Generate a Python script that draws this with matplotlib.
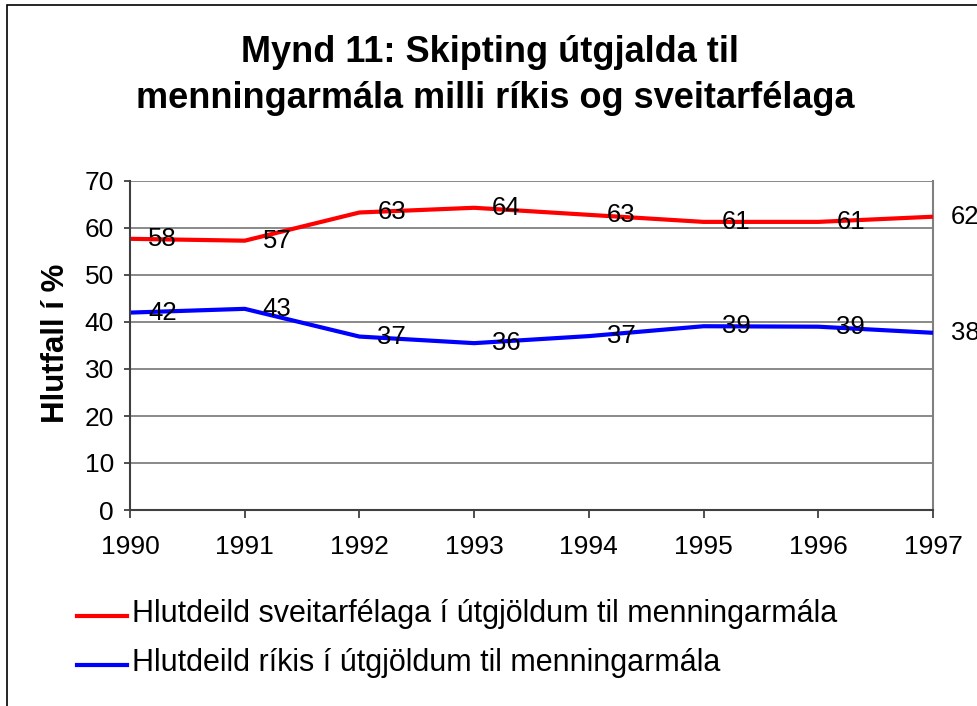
import matplotlib
matplotlib.use("Agg")
import matplotlib.pyplot as plt
from matplotlib.patches import Rectangle

plt.rcParams['font.family'] = ['Liberation Sans', 'DejaVu Sans']

years = [1990, 1991, 1992, 1993, 1994, 1995, 1996, 1997]
sveitarfelog = [57.7, 57.3, 63.3, 64.3, 62.8, 61.3, 61.3, 62.4]
riki = [42.0, 42.8, 36.9, 35.5, 37.0, 39.1, 39.0, 37.7]
sveitarfelog_labels = ['58', '57', '63', '64', '63', '61', '61', '62']
riki_labels = ['42', '43', '37', '36', '37', '39', '39', '38']
yticks = [0, 10, 20, 30, 40, 50, 60, 70]

title1 = "Mynd 11: Skipting útgjalda til"
title2 = "menningarmála milli ríkis og sveitarfélaga"
ylabel = "Hlutfall í %"
leg_red = "Hlutdeild sveitarfélaga í útgjöldum til menningarmála"
leg_blue = "Hlutdeild ríkis í útgjöldum til menningarmála"

W, H = 978, 706
fig = plt.figure(figsize=(W / 100, H / 100), dpi=100)

# outer chart border (only left/top visible in the original)
fig.add_artist(Rectangle((7 / W, -0.1), 1.2, 1.1 - 5 / H, transform=fig.transFigure,
                         fill=False, ec='black', lw=1.2))

ax = fig.add_axes([130 / W, 1 - 510 / H, (933 - 130) / W, (510 - 181) / H])
ax.set_xlim(years[0], years[-1])
ax.set_ylim(0, 70)
ax.set_yticks(yticks)
ax.set_xticks(years)
ax.grid(axis='y', color='#808080', lw=1.3)
ax.set_axisbelow(True)
for side in ['left', 'bottom']:
    ax.spines[side].set_color('#404040')
    ax.spines[side].set_linewidth(1.5)
    ax.spines[side].set_zorder(5)
ax.spines['right'].set_color('#808080')
ax.spines['right'].set_linewidth(1.5)
ax.spines['top'].set_visible(False)
ax.tick_params(axis='both', labelsize=19, color='#404040', width=1.3)
ax.tick_params(axis='x', length=6, pad=12)
ax.tick_params(axis='y', length=4.5, pad=7)

ax.plot(years, sveitarfelog, color='#FF0000', lw=3, solid_capstyle='butt', clip_on=False, zorder=3)
ax.plot(years, riki, color='#0000FF', lw=3, solid_capstyle='butt', clip_on=False, zorder=3)

for x, y, t in zip(years, sveitarfelog, sveitarfelog_labels):
    ax.annotate(t, (x, y), xytext=(13, 0), textcoords='offset points', ha='left', va='center',
                fontsize=18.5, annotation_clip=False, zorder=4)
for x, y, t in zip(years, riki, riki_labels):
    ax.annotate(t, (x, y), xytext=(13, 0), textcoords='offset points', ha='left', va='center',
                fontsize=18.5, annotation_clip=False, zorder=4)

fig.text(56 / W, 1 - 343 / H, ylabel, rotation=90, ha='center', va='center',
         fontsize=22.5, fontweight='bold')

fig.text(490 / W, 1 - 52 / H, title1, ha='center', va='center', fontsize=26, fontweight='bold')
fig.text(495 / W, 1 - 99 / H, title2, ha='center', va='center', fontsize=26, fontweight='bold')

# legend drawn by hand at the bottom
for yy, c, t in [(616, '#FF0000', leg_red), (665, '#0000FF', leg_blue)]:
    fig.add_artist(plt.Line2D([77 / W, 127 / W], [1 - yy / H, 1 - yy / H], color=c, lw=3,
                              transform=fig.transFigure))
    fig.text(132 / W, 1 - (yy - 2) / H, t, ha='left', va='center', fontsize=22)

fig.savefig('out.png', dpi=100)
